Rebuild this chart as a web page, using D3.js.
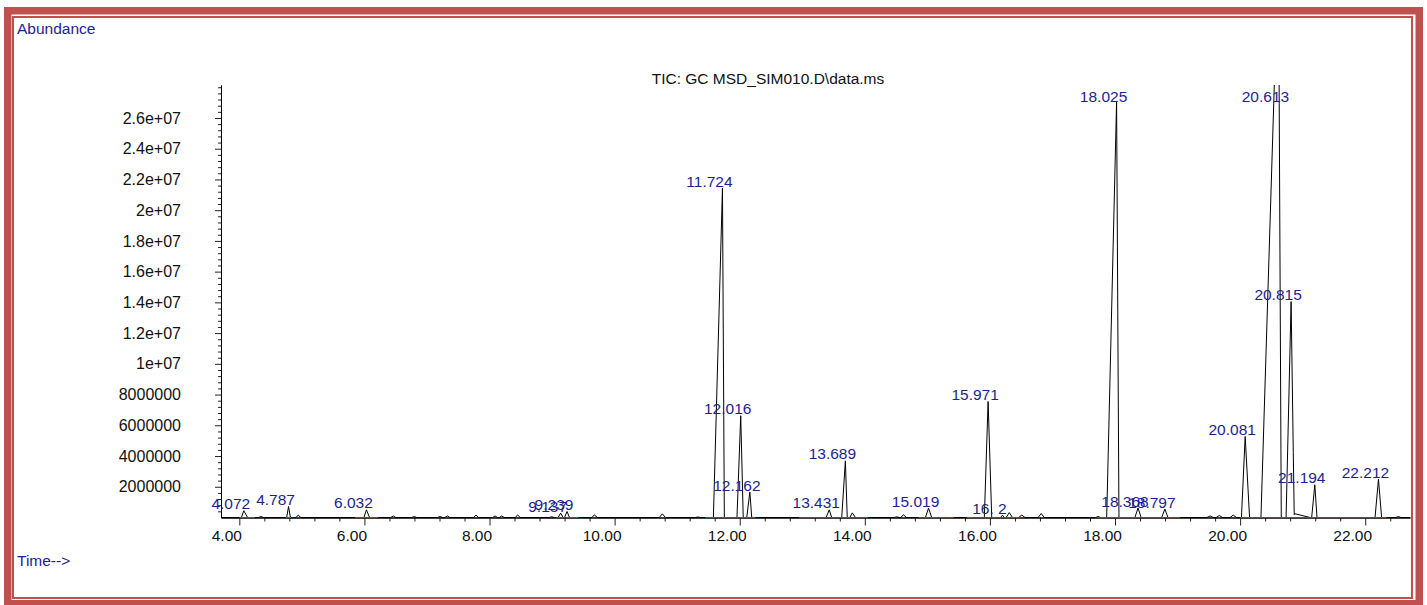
<!DOCTYPE html>
<html>
<head>
<meta charset="utf-8">
<script src="https://cdn.jsdelivr.net/npm/d3@7/dist/d3.min.js"></script>
<style>
  html, body { margin: 0; padding: 0; background: #fff; }
  svg { display: block; font-family: "Liberation Sans", Arial, Helvetica, sans-serif; }
</style>
</head>
<body>
<svg id="chart" width="1427" height="605"></svg>
<script>
// ---- Peak table (retention time in minutes, apex abundance, leading / trailing width in minutes)
const peakTimes = [
  4.072, 4.347, 4.787, 4.943, 6.032, 6.462, 6.798, 7.209, 7.326, 7.784,
  8.088, 8.195, 8.450, 8.994, 9.137, 9.239, 9.676, 10.763, 11.330, 11.724,
  12.016, 12.162, 13.431, 13.689, 13.800, 14.510, 14.616, 15.019, 15.971, 16.200,
  16.310, 16.510, 16.820, 17.730, 18.025, 18.368, 18.797, 19.520, 19.667, 19.890,
  20.081, 20.613, 20.815, 20.870, 21.194, 22.212, 22.530
];
const peakHeights = [
  440000, 65000, 716000, 150000, 500000, 100000, 65000, 65000, 100000, 160000,
  100000, 100000, 160000, 45000, 290000, 390000, 160000, 240000, 35000, 21430000,
  6620000, 1650000, 500000, 3690000, 300000, 45000, 180000, 614000, 7550000, 150000,
  320000, 160000, 260000, 65000, 27060000, 614000, 550000, 100000, 130000, 160000,
  5270000, 36900000, 14050000, 250000, 2130000, 2500000, 65000
];
const peakFront = [
  0.04, 0.04, 0.03, 0.04, 0.04, 0.04, 0.04, 0.04, 0.04, 0.04,
  0.04, 0.04, 0.04, 0.04, 0.04, 0.04, 0.04, 0.05, 0.04, 0.145,
  0.06, 0.05, 0.05, 0.058, 0.04, 0.04, 0.04, 0.05, 0.06, 0.03,
  0.05, 0.05, 0.05, 0.04, 0.158, 0.05, 0.05, 0.05, 0.05, 0.05,
  0.06, 0.280, 0.08, 0.02, 0.05, 0.055, 0.04
];
const peakTail = [
  0.06, 0.04, 0.03, 0.04, 0.05, 0.04, 0.04, 0.04, 0.04, 0.04,
  0.04, 0.04, 0.04, 0.04, 0.04, 0.04, 0.05, 0.05, 0.04, 0.030,
  0.04, 0.03, 0.04, 0.030, 0.05, 0.04, 0.05, 0.05, 0.058, 0.03,
  0.05, 0.05, 0.05, 0.04, 0.038, 0.05, 0.05, 0.05, 0.05, 0.05,
  0.07, 0.045, 0.05, 0.25, 0.035, 0.05, 0.04
];
const peakNames = [
  "4.072", "", "4.787", "", "6.032", "", "", "", "", "",
  "", "", "", "", "9.137", "9.239", "", "", "", "11.724",
  "12.016", "12.162", "13.431", "13.689", "", "", "", "15.019", "15.971", "16. 2",
  "", "", "", "", "18.025", "18.368", "18.797", "", "", "",
  "20.081", "20.613", "20.815", "", "21.194", "22.212", ""
];

// ---- Integration baselines (start / end in minutes)
const integStart = [4.00, 4.74, 5.85, 9.07, 11.45, 12.95, 14.86, 15.63, 17.71, 20.00];
const integEnd   = [4.25, 4.83, 6.22, 9.42, 12.25, 14.05, 15.42, 16.48, 19.04, 22.34];

// ---- Axis ticks
const xMajorTicks = [4, 6, 8, 10, 12, 14, 16, 18, 20, 22];
const xMinorStep = 0.4;
const yTickValues = [2e6, 4e6, 6e6, 8e6, 1e7, 1.2e7, 1.4e7, 1.6e7, 1.8e7, 2e7, 2.2e7, 2.4e7, 2.6e7];
const yTickLabels = ["2000000", "4000000", "6000000", "8000000", "1e+07", "1.2e+07", "1.4e+07",
                     "1.6e+07", "1.8e+07", "2e+07", "2.2e+07", "2.4e+07", "2.6e+07"];
const yMinorStep = 400000;

const titleText = "TIC: GC MSD_SIM010.D\\data.ms";

// ---- Layout
const W = 1427, H = 605;
const plot = { left: 221, right: 1410, top: 85, bottom: 517.5 };
const frameRed = "#c0504d";
const labelBlue = "#1e1e8f";
const font = "Liberation Sans, Arial, sans-serif";

const svg = d3.select("#chart");

const x = d3.scaleLinear().domain([3.707, 22.716]).range([plot.left, plot.right]);
const y = d3.scaleLinear().domain([0, 28.146e6]).range([plot.bottom, plot.top]);

// frame
svg.append("rect").attr("x", 0).attr("y", 0).attr("width", W).attr("height", H).attr("fill", "#fff");
svg.append("rect")
  .attr("x", 7.75).attr("y", 10.75).attr("width", 1411.5).attr("height", 593)
  .attr("fill", "none").attr("stroke", frameRed).attr("stroke-width", 7.5);
svg.append("rect")
  .attr("x", 13).attr("y", 17).attr("width", 1399).attr("height", 581)
  .attr("fill", "none").attr("stroke", frameRed).attr("stroke-width", 2);

// corner captions
svg.append("text").attr("x", 17).attr("y", 34).attr("fill", labelBlue)
  .attr("font-size", 15.5).text("Abundance");
svg.append("text").attr("x", 17).attr("y", 566).attr("fill", labelBlue)
  .attr("font-size", 15.5).text("Time-->");

// title
svg.append("text").attr("x", 768).attr("y", 84).attr("text-anchor", "middle")
  .attr("fill", "#111").attr("font-size", 15.5).text(titleText);

// ---- Trace: sum of the peak shapes, evaluated at every vertex
const n = peakTimes.length;
const vertexTimes = new Set([x.domain()[0], x.domain()[1]]);
for (let i = 0; i < n; i++) {
  vertexTimes.add(+(peakTimes[i] - peakFront[i]).toFixed(4));
  vertexTimes.add(peakTimes[i]);
  vertexTimes.add(+(peakTimes[i] + peakTail[i]).toFixed(4));
}
function signalAt(t) {
  let s = 0;
  for (let i = 0; i < n; i++) {
    const t0 = peakTimes[i] - peakFront[i], t1 = peakTimes[i] + peakTail[i];
    if (t <= t0 || t >= t1) continue;
    s += t <= peakTimes[i]
      ? peakHeights[i] * (t - t0) / peakFront[i]
      : peakHeights[i] * (t1 - t) / peakTail[i];
  }
  return s;
}
const trace = Array.from(vertexTimes).sort((a, b) => a - b).map(t => [t, signalAt(t)]);

svg.append("clipPath").attr("id", "plotClip")
  .append("rect").attr("x", plot.left).attr("y", plot.top)
  .attr("width", plot.right - plot.left).attr("height", plot.bottom - plot.top + 2);

svg.append("path")
  .datum(trace)
  .attr("clip-path", "url(#plotClip)")
  .attr("fill", "none").attr("stroke", "#000").attr("stroke-width", 1)
  .attr("stroke-linejoin", "round")
  .attr("d", d3.line().x(d => x(d[0])).y(d => y(d[1])));

// ---- Axes
const xMinor = d3.range(4, x.domain()[1], xMinorStep).filter(v => !xMajorTicks.some(m => Math.abs(m - v) < 1e-6));
const gx = svg.append("g").attr("transform", `translate(0,${plot.bottom})`);
gx.call(d3.axisBottom(x).tickValues(xMinor).tickSize(4).tickFormat("").tickSizeOuter(0));
gx.selectAll(".tick line").attr("stroke", "#222");
const gxMajor = svg.append("g").attr("transform", `translate(0,${plot.bottom})`);
gxMajor.call(d3.axisBottom(x).tickValues(xMajorTicks).tickSize(8).tickSizeOuter(0)
  .tickFormat(d3.format(".2f")));
gxMajor.select(".domain").attr("stroke", "#000");
gxMajor.selectAll(".tick line").attr("stroke", "#222");
gxMajor.selectAll(".tick text").attr("x", -13).attr("y", 12).attr("dy", "0.71em")
  .attr("font-size", 15.5).attr("font-family", font).attr("fill", "#111");

const yMinor = d3.range(yMinorStep, y.domain()[1], yMinorStep).filter(v => !yTickValues.some(m => Math.abs(m - v) < 1));
const gy = svg.append("g").attr("transform", `translate(${plot.left},0)`);
gy.call(d3.axisLeft(y).tickValues(yMinor).tickSize(3).tickFormat("").tickSizeOuter(0));
gy.selectAll(".tick line").attr("stroke", "#222");
const gyMajor = svg.append("g").attr("transform", `translate(${plot.left},0)`);
gyMajor.call(d3.axisLeft(y).tickValues(yTickValues).tickSize(6).tickSizeOuter(0)
  .tickFormat((d, i) => yTickLabels[i]));
gyMajor.select(".domain").attr("stroke", "#000");
gyMajor.selectAll(".tick line").attr("stroke", "#222");
gyMajor.selectAll(".tick text").attr("x", -40)
  .attr("font-size", 16).attr("font-family", font).attr("fill", "#111");

// integration baselines
svg.append("g").selectAll("line")
  .data(d3.zip(integStart, integEnd))
  .join("line")
  .attr("x1", d => x(d[0])).attr("x2", d => x(d[1]))
  .attr("y1", y(0)).attr("y2", y(0))
  .attr("stroke", "#b02a2a").attr("stroke-width", 1);

// peak labels
const labelTop = plot.top + 16.5;
svg.append("g").selectAll("text")
  .data(d3.range(n).filter(i => peakNames[i] !== ""))
  .join("text")
  .attr("x", i => x(peakTimes[i]) - 13)
  .attr("y", i => Math.max(y(peakHeights[i]) - 1.5, labelTop))
  .attr("text-anchor", "middle")
  .attr("font-size", 15.5)
  .attr("font-family", font)
  .attr("fill", labelBlue)
  .text(i => peakNames[i]);
</script>
</body>
</html>
